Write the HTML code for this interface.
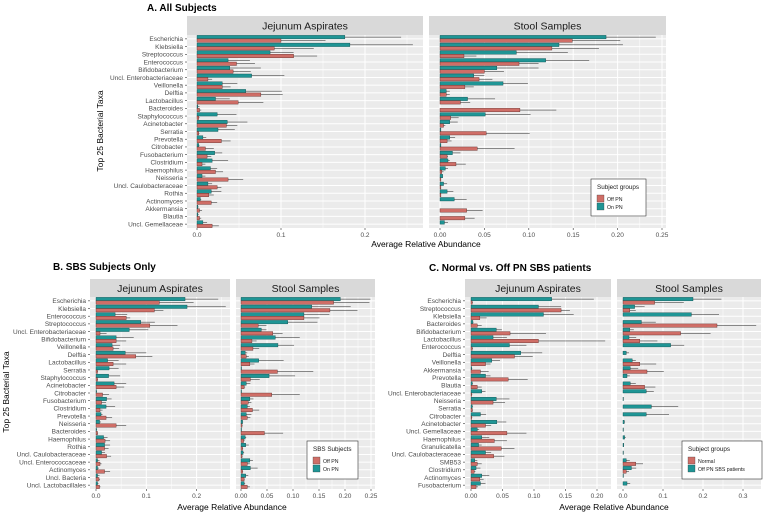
<!DOCTYPE html>
<html><head><meta charset="utf-8"><style>
body{margin:0;background:#fff;}
svg{display:block;font-family:"Liberation Sans",sans-serif;}
</style></head><body>
<svg id="fig" width="763" height="513" viewBox="0 0 763 513"></svg>
<script>
// ---------- Panel A data ----------
const taxaA = ["Escherichia","Klebsiella","Streptococcus","Enterococcus","Bifidobacterium","Uncl. Enterobacteriaceae","Veillonella","Delftia","Lactobacillus","Bacteroides","Staphylococcus","Acinetobacter","Serratia","Prevotella","Citrobacter","Fusobacterium","Clostridium","Haemophilus","Neisseria","Uncl. Caulobacteraceae","Rothia","Actinomyces","Akkermansia","Blautia","Uncl. Gemellaceae"];
const aJejOn   = [.176,.182,.087,.037,.039,.065,.030,.058,.022,.001,.024,.036,.025,.007,.002,.021,.018,.016,.006,.013,.017,.004,.001,.001,.007];
const aJejOnE  = [.243,.257,.115,.063,.076,.104,.048,.101,.039,.003,.047,.060,.045,.011,.003,.030,.037,.024,.010,.018,.029,.005,.002,.002,.012];
const aJejOff  = [.100,.092,.115,.047,.043,.013,.030,.076,.049,.003,.002,.035,.002,.029,.010,.012,.006,.022,.037,.024,.014,.017,.003,.003,.018];
const aJejOffE = [.153,.139,.143,.069,.064,.018,.040,.102,.079,.005,.003,.048,.003,.040,.020,.017,.010,.031,.055,.029,.020,.024,.006,.005,.026];
const aStOn    = [.187,.134,.086,.119,.064,.038,.071,.007,.031,.000,.051,.011,.001,.011,.001,.014,.009,.006,.003,.004,.008,.016,.000,.000,.005];
const aStOnE   = [.243,.206,.144,.168,.111,.050,.099,.011,.062,.000,.102,.020,.001,.017,.001,.023,.011,.009,.003,.008,.015,.030,.000,.000,.009];
const aStOff   = [.149,.126,.027,.089,.050,.044,.028,.007,.023,.090,.012,.004,.052,.008,.042,.008,.018,.002,.001,.001,.001,.000,.030,.028,.000];
const aStOffE  = [.203,.179,.041,.111,.072,.059,.038,.011,.034,.131,.021,.006,.101,.013,.084,.009,.029,.004,.001,.001,.001,.000,.048,.039,.000];
// ---------- Panel B data ----------
const taxaB = ["Escherichia","Klebsiella","Enterococcus","Streptococcus","Uncl. Enterobacteriaceae","Bifidobacterium","Veillonella","Delftia","Lactobacillus","Serratia","Staphylococcus","Acinetobacter","Citrobacter","Fusobacterium","Clostridium","Prevotella","Neisseria","Bacteroides","Haemophilus","Rothia","Uncl. Caulobacteraceae","Uncl. Enterococcaceae","Actinomyces","Uncl. Bacteria","Uncl. Lactobacillales"];
const bJejOn   = [.177,.181,.038,.089,.066,.040,.032,.058,.023,.026,.025,.036,.001,.021,.020,.010,.007,.001,.015,.017,.011,.003,.003,.003,.003];
const bJejOnE  = [.243,.258,.062,.117,.104,.075,.048,.100,.045,.045,.048,.060,.002,.031,.038,.013,.010,.002,.023,.028,.018,.007,.006,.007,.005];
const bJejOff  = [.126,.116,.060,.107,.008,.040,.034,.079,.034,.003,.003,.040,.013,.011,.008,.020,.040,.003,.018,.017,.021,.008,.017,.006,.007];
const bJejOffE = [.194,.134,.068,.162,.021,.060,.046,.112,.060,.004,.004,.056,.026,.020,.013,.032,.060,.004,.028,.025,.030,.011,.028,.008,.009];
const bStOn    = [.191,.136,.121,.090,.039,.066,.071,.008,.034,.001,.054,.010,.001,.017,.012,.010,.003,.001,.008,.009,.004,.017,.018,.009,.006];
const bStOnE   = [.249,.211,.170,.147,.049,.113,.102,.012,.082,.001,.104,.018,.001,.024,.017,.020,.004,.001,.010,.015,.006,.023,.032,.014,.008];
const bStOff   = [.178,.171,.121,.033,.061,.021,.023,.010,.017,.070,.018,.006,.059,.014,.022,.012,.002,.045,.005,.003,.002,.012,.003,.006,.012];
const bStOffE  = [.247,.224,.151,.049,.080,.030,.035,.015,.026,.139,.036,.008,.113,.020,.035,.018,.003,.081,.007,.004,.003,.017,.004,.007,.017];
// ---------- Panel C data ----------
const taxaC = ["Escherichia","Streptococcus","Klebsiella","Bacteroides","Bifidobacterium","Lactobacillus","Enterococcus","Delftia","Veillonella","Akkermansia","Prevotella","Blautia","Uncl. Enterobacteriaceae","Neisseria","Serratia","Citrobacter","Acinetobacter","Uncl. Gemellaceae","Haemophilus","Granulicatella","Uncl. Caulobacteraceae","SMB53","Clostridium","Actinomyces","Fusobacterium"];
const cJejSbs   = [.128,.107,.115,.003,.040,.035,.061,.079,.033,.001,.023,.002,.017,.040,.002,.015,.041,.010,.017,.012,.023,.006,.008,.017,.015];
const cJejSbsE  = [.195,.143,.163,.004,.049,.057,.088,.113,.046,.002,.031,.003,.023,.061,.003,.024,.056,.013,.029,.017,.032,.010,.015,.029,.023];
const cJejNorm  = [.002,.143,.014,.010,.062,.107,.002,.069,.023,.015,.059,.010,.001,.035,.002,.001,.023,.057,.037,.048,.036,.010,.005,.014,.008];
const cJejNormE = [.003,.157,.025,.017,.119,.213,.003,.098,.031,.028,.090,.017,.002,.054,.003,.002,.032,.088,.057,.069,.053,.017,.007,.020,.011];
const cStSbs    = [.175,.029,.171,.046,.017,.015,.119,.008,.023,.018,.010,.018,.058,.001,.071,.058,.003,.001,.004,.002,.001,.008,.021,.001,.010];
const cStSbsE   = [.246,.054,.240,.082,.027,.033,.153,.015,.032,.038,.017,.032,.077,.001,.138,.115,.005,.001,.007,.002,.001,.017,.033,.001,.018];
const cStNorm   = [.079,.017,.000,.235,.144,.042,.000,.000,.042,.060,.000,.054,.000,.000,.000,.000,.000,.000,.000,.000,.000,.032,.008,.000,.000];
const cStNormE  = [.152,.032,.000,.333,.219,.086,.000,.000,.083,.102,.000,.081,.000,.000,.000,.000,.000,.000,.000,.000,.000,.050,.015,.000,.000];
// ---------- tick values ----------
const ticksA1 = [0,0.1,0.2], labA1 = ["0.0","0.1","0.2"];
const ticksA2 = [0,0.05,0.1,0.15,0.2,0.25], labA2 = ["0.00","0.05","0.10","0.15","0.20","0.25"];
const ticksB1 = [0,0.1,0.2], labB1 = ["0.0","0.1","0.2"];
const ticksB2 = [0,0.05,0.1,0.15,0.2,0.25], labB2 = ["0.00","0.05","0.10","0.15","0.20","0.25"];
const ticksC1 = [0,0.05,0.1,0.15,0.2], labC1 = ["0.00","0.05","0.10","0.15","0.20"];
const ticksC2 = [0,0.1,0.2,0.3], labC2 = ["0.0","0.1","0.2","0.3"];

const NS = "http://www.w3.org/2000/svg";
const svg = document.getElementById('fig');
function mk(tag, attrs, parent, name){
  const e = document.createElementNS(NS, tag);
  for (const k in attrs) e.setAttribute(k, attrs[k]);
  
  
  (parent||svg).appendChild(e);
  return e;
}
function txt(s, attrs, parent, name){ const t = mk('text', attrs, parent, name); t.textContent = s; return t; }

const TEAL = "#1f9595", TEALS = "#0c4c4c", RED = "#cf6e67", REDS = "#5e2a27";

function facet(g, x0, x1, zero, scale, top, bottom, strip, title, ticks, labs, topV, topE, botV, botE){
  const sx = v => zero + v*scale;
  mk('rect',{x:x0,y:strip,width:x1-x0,height:top-strip,fill:"#d9d9d9"},g,'strip-bg');
  txt(title,{x:(x0+x1)/2,y:(strip+top)/2+4,'text-anchor':'middle','font-size':10.5,fill:'#1a1a1a'},g,'strip-label');
  mk('rect',{x:x0,y:top,width:x1-x0,height:bottom-top,fill:"#ebebeb"},g,'panel-bg');
  const n = topV.length, h = (bottom-top)/n;
  // minor vertical grid
  const step = ticks[1]-ticks[0];
  for (let v = step/2; sx(v) < x1; v += step)
    mk('line',{x1:sx(v),x2:sx(v),y1:top,y2:bottom,stroke:'#fff','stroke-width':0.5},g,'minor-gridline');
  ticks.forEach((v,i)=>{
    mk('line',{x1:sx(v),x2:sx(v),y1:top,y2:bottom,stroke:'#fff','stroke-width':1},g,'major-gridline');
    mk('line',{x1:sx(v),x2:sx(v),y1:bottom,y2:bottom+2,stroke:'#333','stroke-width':0.6},g,'x-tick');
    txt(labs[i],{x:sx(v),y:bottom+9,'text-anchor':'middle','font-size':6.5,fill:'#4d4d4d'},g,'x-tick-label');
  });
  for (let i=0;i<n;i++){
    const cy = top + (i+0.5)*h;
    mk('line',{x1:x0,x2:x1,y1:cy,y2:cy,stroke:'#fff','stroke-width':1},g,'row-gridline');
  }
  const bh = h*0.45;
  for (let i=0;i<n;i++){
    const cy = top + (i+0.5)*h;
    mk('rect',{x:zero,y:cy-bh,width:Math.max(0,topV[i]*scale),height:bh,fill:TEAL,stroke:TEALS,'stroke-width':0.4},g,'bar-top-group');
    mk('rect',{x:zero,y:cy,width:Math.max(0,botV[i]*scale),height:bh,fill:RED,stroke:REDS,'stroke-width':0.4},g,'bar-bottom-group');
    if (topE[i]>topV[i]) mk('line',{x1:sx(topV[i]),x2:sx(topE[i]),y1:cy-bh/2,y2:cy-bh/2,stroke:'#222','stroke-width':0.5},g,'error-bar');
    if (botE[i]>botV[i]) mk('line',{x1:sx(botV[i]),x2:sx(botE[i]),y1:cy+bh/2,y2:cy+bh/2,stroke:'#222','stroke-width':0.5},g,'error-bar');
  }
}
function yLabels(g, taxa, xr, top, bottom){
  const h = (bottom-top)/taxa.length;
  taxa.forEach((t,i)=>{
    const cy = top + (i+0.5)*h;
    txt(t,{x:xr-4,y:cy+2.3,'text-anchor':'end','font-size':6.5,fill:'#4d4d4d'},g,'y-tick-label');
    mk('line',{x1:xr-2,x2:xr,y1:cy,y2:cy,stroke:'#333','stroke-width':0.6},g,'y-tick');
  });
}
function legend(g, x, y, w, hgt, title, a, b){
  mk('rect',{x:x,y:y,width:w,height:hgt,fill:'#fff',stroke:'#333','stroke-width':0.6},g,'legend-box');
  txt(title,{x:x+6,y:y+10,'font-size':6.3,fill:'#1a1a1a'},g,'legend-title');
  mk('rect',{x:x+6,y:y+16,width:7,height:7,fill:RED,stroke:'#333','stroke-width':0.3},g,'legend-key-red');
  txt(a,{x:x+16,y:y+22,'font-size':5.2,fill:'#1a1a1a'},g,'legend-label');
  mk('rect',{x:x+6,y:y+24,width:7,height:7,fill:TEAL,stroke:'#333','stroke-width':0.3},g,'legend-key-teal');
  txt(b,{x:x+16,y:y+30,'font-size':5.2,fill:'#1a1a1a'},g,'legend-label');
}

// Panel A
const gA = mk('g',{},svg,'panel-a');
txt("A. All Subjects",{x:147,y:11,'font-size':10,'font-weight':'bold',fill:'#000'},gA,'panel-a-title');
facet(gA,187,423,197,840,35,228,16,"Jejunum Aspirates",ticksA1,labA1,aJejOn,aJejOnE,aJejOff,aJejOffE);
facet(gA,429,666,440,888,35,228,16,"Stool Samples",ticksA2,labA2,aStOn,aStOnE,aStOff,aStOffE);
yLabels(gA,taxaA,187,35,228);
txt("Average Relative Abundance",{x:426,y:247,'text-anchor':'middle','font-size':8.5,fill:'#000'},gA,'x-axis-title');
txt("Top 25 Bacterial Taxa",{x:0,y:0,'text-anchor':'middle','font-size':8.5,fill:'#000',transform:'translate(103,131) rotate(-90)'},gA,'y-axis-title');
legend(gA,591,179,55,37,"Subject groups","Off PN","On PN");

// Panel B
const gB = mk('g',{},svg,'panel-b');
txt("B. SBS Subjects Only",{x:53,y:270,'font-size':10,'font-weight':'bold',fill:'#000'},gB,'panel-b-title');
facet(gB,90,230,96,503,297,489,279,"Jejunum Aspirates",ticksB1,labB1,bJejOn,bJejOnE,bJejOff,bJejOffE);
facet(gB,236,375,241,520,297,489,279,"Stool Samples",ticksB2,labB2,bStOn,bStOnE,bStOff,bStOffE);
yLabels(gB,taxaB,90,297,489);
txt("Average Relative Abundance",{x:232,y:510,'text-anchor':'middle','font-size':8.5,fill:'#000'},gB,'x-axis-title');
txt("Top 25 Bacterial Taxa",{x:0,y:0,'text-anchor':'middle','font-size':8.5,fill:'#000',transform:'translate(9,392) rotate(-90)'},gB,'y-axis-title');
legend(gB,307,441,51,38,"SBS Subjects","Off PN","On PN");

// Panel C
const gC = mk('g',{},svg,'panel-c');
txt("C. Normal vs. Off PN SBS patients",{x:429,y:271,'font-size':10,'font-weight':'bold',fill:'#000'},gC,'panel-c-title');
facet(gC,465,611,471,630,297,489,279,"Jejunum Aspirates",ticksC1,labC1,cJejSbs,cJejSbsE,cJejNorm,cJejNormE);
facet(gC,617,761,623,400,297,489,279,"Stool Samples",ticksC2,labC2,cStSbs,cStSbsE,cStNorm,cStNormE);
yLabels(gC,taxaC,465,297,489);
txt("Average Relative Abundance",{x:614,y:510,'text-anchor':'middle','font-size':8.5,fill:'#000'},gC,'x-axis-title');
legend(gC,682,441,80,38,"Subject groups","Normal","Off PN SBS patients");
</script>
</body></html>
